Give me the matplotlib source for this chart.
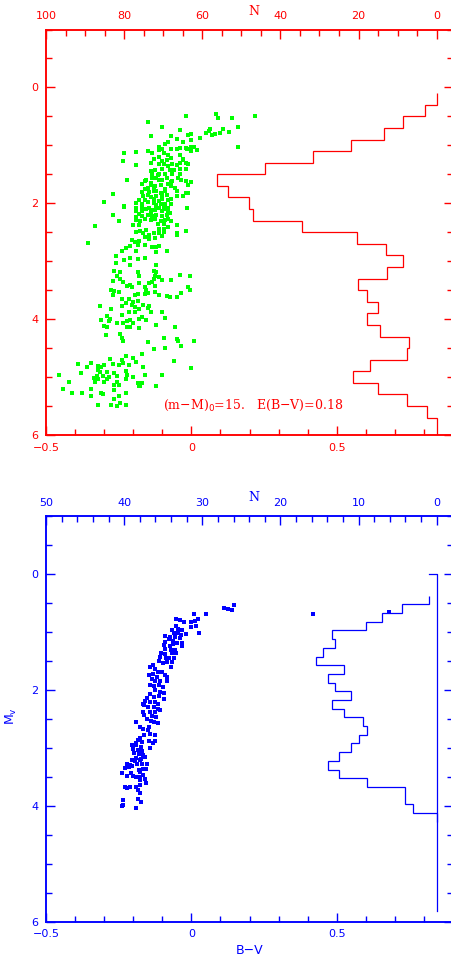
import matplotlib
matplotlib.use('Agg')
import matplotlib.pyplot as plt
from matplotlib.ticker import MultipleLocator

# ---------------- top panel: cluster CMD (green) + luminosity function (red)
green_bv = [
    -0.15, -0.10, -0.02, 0.085, 0.09, 0.14, 0.22, 0.16, 0.11, 0.10, 0.08, 0.07, 0.065, 0.06, 0.05, 0.03,
    0.13, 0.16, -0.04, -0.07, -0.14, -0.01, 0.00, -0.05, -0.03, 0.00, -0.08, -0.09, -0.11, -0.10, -0.07,
    -0.05, -0.04, -0.02, -0.015, 0.00, 0.01, 0.00, 0.02, -0.11, -0.15, -0.19, -0.23, -0.135, -0.095, -0.08,
    -0.04, -0.03, -0.235, -0.19, -0.13, -0.11, -0.10, -0.085, -0.07, -0.14, -0.11, -0.095, -0.08, -0.065,
    -0.05, -0.04, -0.02, -0.01, -0.03, -0.02, -0.04, -0.06, -0.075, -0.10, -0.125, -0.14, -0.11, -0.09,
    -0.065, -0.04, -0.22, -0.155, -0.135, -0.12, -0.10, -0.085, -0.065, -0.045, -0.035, -0.02, -0.01, 0.00,
    -0.17, -0.16, -0.14, -0.125, -0.105, -0.09, -0.07, -0.055, -0.07, -0.05, -0.145, -0.13, -0.105, -0.085,
    -0.27, -0.165, -0.14, -0.12, -0.10, -0.08, -0.07, -0.05, -0.03, -0.02, -0.01, -0.30, -0.18, -0.15, -0.13,
    -0.105, -0.09, -0.07, -0.19, -0.23, -0.19, -0.17, -0.145, -0.12, -0.095, -0.08, -0.015,
    -0.16, -0.14, -0.12, -0.10, -0.13, -0.15, -0.17, -0.11, -0.08, -0.12, -0.14, -0.10, -0.17, -0.16, -0.13,
    -0.115, -0.135, -0.09, -0.15, -0.11,
    -0.23, -0.27, -0.25, -0.33, -0.19, -0.18, -0.17, -0.155, -0.14, -0.125, -0.11, -0.095, -0.08, -0.19,
    -0.17, -0.15, -0.135, -0.12, -0.10, -0.085, -0.075, -0.08, -0.19, -0.175, -0.16, -0.14, -0.125, -0.105,
    -0.09, -0.07, -0.20, -0.18, -0.115, -0.095, -0.08, -0.05, -0.11, -0.095, -0.175, -0.155, -0.19, -0.165,
    -0.145, -0.13, -0.11, -0.095, -0.16, -0.145, -0.125, -0.10, -0.05, -0.05, -0.02, -0.355, -0.205, -0.195,
    -0.18, -0.21, -0.185, -0.16, -0.135, -0.12, -0.11, -0.225, -0.24, -0.19, -0.12, -0.085, -0.26, -0.21,
    -0.185, -0.16, -0.23, -0.26, -0.21, -0.12, -0.265, -0.245, -0.185, -0.13, -0.12, -0.255, -0.18, -0.125,
    -0.11, -0.04, -0.005, -0.245, -0.27, -0.235, -0.10, -0.07, -0.13, -0.22, -0.21, -0.205, -0.18, -0.145,
    -0.135, -0.125, -0.16, -0.275, -0.265, -0.25, -0.155, -0.15, -0.125, -0.01, -0.005, -0.27, -0.195,
    -0.185, -0.16, -0.11, -0.085, -0.075, -0.05, -0.035, -0.24, -0.215, -0.20, -0.185, -0.225, -0.315,
    -0.24, -0.205, -0.195, -0.18, -0.165, -0.15, -0.145, -0.275,
    -0.24, -0.215, -0.195, -0.14, -0.10, -0.09, -0.31, -0.29, -0.285, -0.28, -0.255, -0.235, -0.22, -0.21,
    -0.20, -0.18, -0.17, -0.155, -0.30, -0.29, -0.22, -0.21, -0.18, -0.12, -0.055, -0.295, -0.245, -0.24,
    -0.235, -0.15, -0.095, -0.05, -0.045, 0.01, -0.13, -0.09, -0.035, -0.17, -0.225, -0.20, -0.28, -0.24,
    -0.39, -0.345, -0.36, -0.32, -0.31, -0.30, -0.27, -0.25, -0.235, -0.215, -0.19, -0.165, -0.06, 0.00,
    -0.38, -0.32, -0.315, -0.29, -0.265, -0.225, -0.22, -0.455, -0.325, -0.305, -0.285, -0.255, -0.20,
    -0.16, -0.10, -0.335, -0.32, -0.29, -0.33, -0.30, -0.265, -0.25, -0.255, -0.225, -0.185, -0.18, -0.17,
    -0.175, -0.12, -0.42, -0.44, -0.41, -0.375, -0.345, -0.345, -0.31, -0.305, -0.265, -0.265, -0.25,
    -0.225, -0.32, -0.275, -0.255, -0.245, -0.225,
]
green_mv = [
    0.59, 0.68, 0.50, 0.46, 0.52, 0.52, 0.50, 0.68, 0.72, 0.78, 0.80, 0.82, 0.72, 0.76, 0.78, 0.88,
    0.77, 1.03, 0.74, 0.84, 0.84, 0.82, 0.81, 0.89, 0.94, 0.91, 0.94, 0.97, 1.03, 1.06, 1.07,
    1.06, 1.04, 1.04, 1.07, 1.02, 1.02, 1.10, 1.08, 1.08, 1.10, 1.12, 1.13, 1.13, 1.14, 1.16,
    1.17, 1.23, 1.27, 1.34, 1.23, 1.20, 1.27, 1.26, 1.22, 1.31, 1.33, 1.33, 1.35, 1.33,
    1.34, 1.30, 1.31, 1.33, 1.26, 1.41, 1.41, 1.43, 1.43, 1.41, 1.42, 1.44, 1.49, 1.49,
    1.50, 1.49, 1.59, 1.59, 1.57, 1.56, 1.59, 1.56, 1.61, 1.56, 1.59, 1.61, 1.68, 1.64,
    1.67, 1.75, 1.68, 1.71, 1.68, 1.75, 1.71, 1.73, 1.63, 1.79, 1.80, 1.79, 1.82, 1.85,
    1.84, 1.88, 1.90, 1.88, 1.92, 1.95, 1.93, 1.88, 1.88, 1.82, 1.82, 1.98, 1.95, 1.98, 1.99,
    2.01, 2.02, 2.01, 1.99, 2.05, 2.08, 2.06, 2.08, 2.08, 2.06, 2.08, 2.08,
    1.62, 1.65, 1.78, 1.86, 1.93, 1.86, 1.80, 1.60, 1.67, 2.03, 2.12, 2.13, 2.02, 1.95, 1.72,
    1.52, 1.50, 1.78, 1.74, 1.96,
    2.06, 2.21, 2.31, 2.40, 2.14, 2.18, 2.14, 2.10, 2.15, 2.12, 2.09, 2.10, 2.14, 2.23,
    2.22, 2.20, 2.22, 2.20, 2.22, 2.20, 2.16, 2.27, 2.29, 2.31, 2.27, 2.29, 2.27, 2.31,
    2.29, 2.31, 2.37, 2.38, 2.35, 2.35, 2.41, 2.37, 2.44, 2.45, 2.47, 2.46, 2.50, 2.52,
    2.54, 2.52, 2.51, 2.50, 2.59, 2.61, 2.60, 2.57, 2.52, 2.54, 2.48, 2.69, 2.64, 2.67,
    2.65, 2.73, 2.72, 2.72, 2.76, 2.76, 2.74, 2.78, 2.82, 2.82, 2.84, 2.82, 2.91, 2.95,
    2.96, 2.95, 2.98, 3.03, 3.07, 3.06, 3.17, 3.19, 3.19, 3.17, 3.19, 3.26, 3.26, 3.26,
    3.27, 3.23, 3.25, 3.31, 3.35, 3.36, 3.33, 3.33, 3.31, 3.42, 3.41, 3.44, 3.38, 3.38,
    3.36, 3.42, 3.45, 3.50, 3.52, 3.53, 3.49, 3.55, 3.53, 3.45, 3.50, 3.59, 3.59,
    3.57, 3.56, 3.59, 3.60, 3.61, 3.62, 3.55, 3.66, 3.65, 3.71, 3.69, 3.72, 3.78,
    3.78, 3.76, 3.79, 3.82, 3.75, 3.81, 3.78, 3.83,
    3.93, 3.87, 3.88, 3.88, 3.88, 3.98, 4.02, 3.95, 4.04, 3.99, 4.06, 4.07, 4.03, 4.02,
    4.06, 3.99, 3.97, 4.01, 4.12, 4.13, 4.14, 4.14, 4.16, 4.10, 4.14, 4.27, 4.25, 4.32,
    4.38, 4.40, 4.33, 4.34, 4.37, 4.38, 4.51, 4.50, 4.47, 4.61, 4.64, 4.67, 4.69, 4.70,
    4.78, 4.76, 4.83, 4.81, 4.83, 4.80, 4.77, 4.80, 4.76, 4.79, 4.74, 4.83, 4.73, 4.85,
    4.93, 4.87, 4.92, 4.92, 4.93, 4.90, 4.96, 4.97, 4.99, 4.99, 5.00, 4.99, 5.00,
    4.97, 4.97, 5.02, 5.04, 5.03, 5.08, 5.08, 5.13, 5.13, 5.08, 5.03, 5.10, 5.16, 5.10,
    5.15, 5.15, 5.08, 5.21, 5.27, 5.28, 5.32, 5.21, 5.28, 5.30, 5.22, 5.38, 5.32,
    5.28, 5.48, 5.48, 5.50, 5.44, 5.48,
]

# luminosity function of the cluster, bins of 0.2 mag
top_edges = [0.1, 0.3, 0.5, 0.7, 0.9, 1.1, 1.3, 1.5, 1.7, 1.9, 2.1, 2.3, 2.5, 2.7, 2.9, 3.1,
             3.3, 3.5, 3.7, 3.9, 4.1, 4.3, 4.5, 4.7, 4.9, 5.1, 5.3, 5.5, 5.7, 5.9, 6.1]
top_counts = [0, 3.0, 8.5, 13.5, 22.0, 31.6, 44.0, 56.3, 53.3, 48.0, 47.0, 34.6, 20.5, 13.0, 8.5,
              12.6, 20.1, 17.9, 15.1, 17.9, 14.5, 7.0, 7.5, 17.1, 21.5, 15.1, 7.5, 2.6, 0, 0]

# ---------------- bottom panel: model / comparison (blue)
blue_bv = [
    0.148, 0.111, 0.126, 0.14, 0.049, 0.01, 0.023, -0.052, -0.038, -0.024, -0.001, 0.011, -0.001, 0.017,
    -0.052, 0.027, -0.066, -0.047, -0.032, -0.061, -0.046, -0.034, -0.017, -0.089, -0.072, -0.055, -0.04,
    -0.078, -0.064, -0.089, -0.05, -0.032, -0.063, -0.032, -0.095, -0.075, -0.092, -0.07, -0.055, -0.103,
    -0.089, -0.066, -0.052, -0.107, -0.087, -0.078, -0.058, -0.112, -0.097, -0.084, -0.066, -0.132, -0.07,
    -0.141, -0.124, -0.116, -0.101, -0.144, -0.132, -0.092, -0.084, -0.119, -0.136, -0.124, -0.109, -0.084,
    -0.143, -0.129, -0.112, -0.097, -0.124, -0.109, -0.095, -0.141, -0.152, -0.129, -0.112, -0.095, -0.16,
    -0.143, -0.124, -0.166, -0.116,
    -0.164, -0.15, -0.129, -0.116, -0.107, -0.166, -0.141, -0.124, -0.164, -0.136, -0.122, -0.153, -0.139,
    -0.127, -0.115, -0.189, -0.175, -0.166, -0.144, -0.15, -0.141, -0.124, -0.164, -0.175, -0.184, -0.17,
    -0.192, -0.146, -0.133, -0.125, -0.204, -0.189, -0.172, -0.141, -0.2, -0.184, -0.17, -0.198, -0.181,
    -0.166, -0.189, -0.172, -0.158, -0.204, -0.193, -0.177, -0.223, -0.21, -0.187, -0.17, -0.152, -0.227,
    -0.215, -0.204, -0.166, -0.155, -0.18, -0.238, -0.207, -0.176, -0.223, -0.202, -0.189, -0.175, -0.166,
    -0.158, -0.177, -0.155, -0.229, -0.222, -0.21, -0.192, -0.183, -0.175, -0.175, -0.235, -0.183, -0.172,
    -0.235, -0.238, -0.19,
    0.418, 0.68,
]
blue_mv = [
    0.536, 0.582, 0.605, 0.622, 0.692, 0.692, 0.778, 0.778, 0.795, 0.824, 0.836, 0.807, 0.911, 0.899,
    0.899, 1.026, 0.968, 0.951, 0.968, 1.026, 1.026, 1.055, 1.037, 1.072, 1.084, 1.084, 1.101,
    1.13, 1.153, 1.17, 1.187, 1.199, 1.216, 1.239, 1.228, 1.251, 1.303, 1.314, 1.314, 1.36,
    1.389, 1.372, 1.372, 1.429, 1.447, 1.458, 1.447, 1.504, 1.533, 1.516, 1.516, 1.573, 1.602,
    1.602, 1.643, 1.689, 1.689, 1.746, 1.729, 1.735, 1.775, 1.775, 1.816, 1.844, 1.85, 1.85,
    1.908, 1.931, 1.919, 1.948, 2.006, 2.035, 2.046, 2.063, 2.138, 2.121, 2.109, 2.161, 2.196,
    2.207, 2.207, 2.236, 2.236,
    2.265, 2.294, 2.294, 2.323, 2.34, 2.38, 2.38, 2.38, 2.438, 2.455, 2.467, 2.496, 2.536,
    2.553, 2.571, 2.553, 2.64, 2.668, 2.64, 2.697, 2.755, 2.784, 2.772, 2.824, 2.859, 2.899,
    2.911, 2.882, 2.916, 2.882, 2.957, 2.957, 2.986, 2.997, 3.014, 3.043, 3.06, 3.089, 3.113,
    3.13, 3.17, 3.187, 3.164, 3.216, 3.233, 3.216, 3.274, 3.291, 3.274, 3.274, 3.274, 3.349,
    3.331, 3.32, 3.36, 3.372, 3.389, 3.435, 3.435, 3.418, 3.487, 3.487, 3.504, 3.504, 3.476,
    3.545, 3.562, 3.602, 3.677, 3.689, 3.677, 3.677, 3.723, 3.648, 3.781, 3.896, 3.885, 3.937,
    3.983, 4.012, 4.04,
    0.686, 0.65,
]

# luminosity function of the comparison sample, bins of 0.15 mag
bot_edges = [0.375, 0.525, 0.675, 0.825, 0.975, 1.125, 1.275, 1.425, 1.575, 1.725, 1.875, 2.025,
             2.175, 2.325, 2.475, 2.625, 2.775, 2.925, 3.075, 3.225, 3.375, 3.525, 3.675, 3.825,
             3.975, 4.125, 4.275]
bot_counts = [1.0, 4.5, 7.0, 9.0, 13.4, 13.0, 14.5, 15.5, 11.9, 13.95, 13.0, 11.0, 13.4, 11.9,
              9.47, 8.96, 10.0, 11.0, 12.5, 13.95, 12.5, 8.96, 4.05, 4.05, 3.0, 0]
# N = 0 reference line of the lower histogram
bot_base_n = [1.0, 0, 0]
bot_base_m = [0, 0, 5.81]

W, H = 451, 960
fig = plt.figure(figsize=(W / 100, H / 100), dpi=100)

def setup(ax, ax2, col, nmax, nmaj, nmin):
    ax.set_xlim(-0.5, 0.9)
    ax.set_ylim(6, -1)
    ax2.set_xlim(nmax, -nmax * 0.0417)
    ax.xaxis.set_major_locator(MultipleLocator(0.5))
    ax.xaxis.set_minor_locator(MultipleLocator(0.1))
    ax.yaxis.set_major_locator(MultipleLocator(2))
    ax.yaxis.set_minor_locator(MultipleLocator(0.5))
    ax2.xaxis.set_major_locator(MultipleLocator(nmaj))
    ax2.xaxis.set_minor_locator(MultipleLocator(nmin))
    ax.xaxis.set_major_formatter(plt.FuncFormatter(lambda v, p: ('%g' % v).replace('-', '\u2212')))
    ax.yaxis.set_major_formatter(plt.FuncFormatter(lambda v, p: '%g' % v))
    ax2.xaxis.set_major_formatter(plt.FuncFormatter(lambda v, p: '%g' % v))
    ax.tick_params(which='both', direction='in', colors=col, left=True, right=True,
                   bottom=True, top=False, labelsize=8, width=1.0, pad=5.5)
    ax.tick_params(which='major', length=6.5)
    ax.tick_params(which='minor', length=4)
    ax2.tick_params(which='both', direction='in', colors=col, top=True, bottom=False,
                    labelsize=8, width=1.0, pad=6)
    ax2.tick_params(which='major', length=6.5)
    ax2.tick_params(which='minor', length=4)
    for a in (ax, ax2):
        for s in a.spines.values():
            s.set_color(col)
            s.set_linewidth(1.1)
        # right frame edge falls just outside the picture
        a.spines['right'].set_visible(False)

# top panel
ax = fig.add_axes([46 / W, 1 - 435 / H, 407 / W, 405.5 / H])
ax2 = ax.twiny()
setup(ax, ax2, 'red', 100, 20, 5)
ax.scatter(green_bv, green_mv, s=9, marker='s', color='#00ff00', linewidths=0)
ax2.stairs(top_counts, top_edges, orientation='horizontal', baseline=None,
           color='red', linewidth=0.9)
ax.text(0.511, 1.0456, 'N', transform=ax.transAxes, ha='center', va='center',
        color='red', fontsize=9, family='DejaVu Serif')
ax.text(-0.096, 5.49, '(m\u2212M)$_0$=15.   E(B\u2212V)=0.18', ha='left', va='center',
        color='red', fontsize=9, family='DejaVu Serif')

# bottom panel
bx = fig.add_axes([46 / W, 1 - 921.7 / H, 407 / W, 405.7 / H])
bx2 = bx.twiny()
setup(bx, bx2, 'blue', 50, 10, 2)
bx.scatter(blue_bv, blue_mv, s=9, marker='s', color='blue', linewidths=0)
bx2.stairs(bot_counts, bot_edges, orientation='horizontal', baseline=None,
           color='blue', linewidth=0.9)
bx2.plot(bot_base_n, bot_base_m, color='blue', linewidth=0.9)
bx.text(0.511, 1.0468, 'N', transform=bx.transAxes, ha='center', va='center',
        color='blue', fontsize=9, family='DejaVu Serif')
bx.text(0.501, -0.07, 'B\u2212V', transform=bx.transAxes, ha='center', va='center',
        color='blue', fontsize=9)
bx.text(-0.085, 0.507, 'M$_{\\rm v}$', transform=bx.transAxes, ha='center', va='center',
        color='blue', fontsize=9, rotation=90)

fig.savefig('out.png', dpi=100)
